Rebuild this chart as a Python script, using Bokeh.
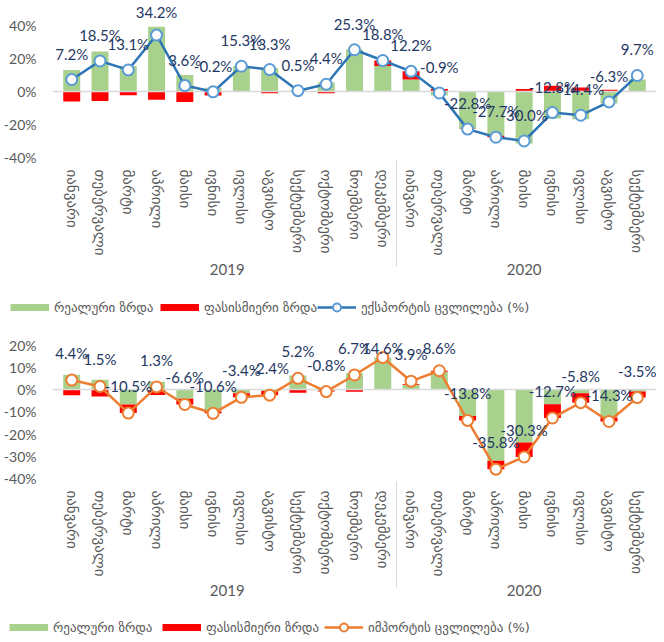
import math
from bokeh.plotting import figure
from bokeh.models import FactorRange, Range1d, FixedTicker, Legend, LegendItem, PrintfTickFormatter
from bokeh.layouts import column
from bokeh.embed import file_html
from bokeh.resources import INLINE
from bokeh.core.properties import value

years = ["2019"] * 12 + ["2020"] * 9
months_ka = ["იანვარი", "თებერვალი", "მარტი", "აპრილი", "მაისი", "ივნისი",
             "ივლისი", "აგვისტო", "სექტემბერი", "ოქტომბერი", "ნოემბერი", "დეკემბერი"]
months = months_ka + months_ka[:9]

exp_real = [13.0, 24.2, 15.4, 39.2, 10.0, 2.3, 15.5, 14.3, 0.8, 5.4, 25.5, 15.5,
            7.2, -2.4, -22.6, -26.8, -31.5, -16.3, -16.8, -7.3, 7.3]
exp_price = [-6.0, -5.8, -2.3, -5.0, -6.4, -2.5, -0.2, -1.0, -0.3, -1.0, -0.2, 3.3,
             5.0, 1.5, -0.2, -0.9, 1.5, 3.5, 2.4, 1.0, 0.0]
exp_change = [7.2, 18.5, 13.1, 34.2, 3.6, -0.2, 15.3, 13.3, 0.5, 4.4, 25.3, 18.8,
              12.2, -0.9, -22.8, -27.7, -30.0, -12.8, -14.4, -6.3, 9.7]

imp_real = [6.8, 4.5, -6.6, 3.6, -4.0, -9.8, -1.5, -0.5, 6.5, -0.3, 7.6, 14.6,
            2.3, 8.2, -11.8, -32.0, -23.8, -6.5, -1.6, -12.5, -0.8]
imp_price = [-2.4, -3.0, -3.9, -2.3, -2.6, -0.8, -1.9, -1.9, -1.3, -0.5, -0.9, 0.0,
             0.3, 0.4, -2.0, -3.8, -6.5, -6.2, -4.2, -1.8, -2.7]
imp_change = [4.4, 1.5, -10.5, 1.3, -6.6, -10.6, -3.4, -2.4, 5.2, -0.8, 6.7, 14.6,
              3.9, 8.6, -13.8, -35.8, -30.3, -12.7, -5.8, -14.3, -3.5]

legend_real = "რეალური ზრდა"
legend_price = "ფასისმიერი ზრდა"
legend_exp = "ექსპორტის ცვლილება (%)"
legend_imp = "იმპორტის ცვლილება (%)"

GREEN = "#A9D18E"
RED = "#FF0000"
GRAY = "#595959"
LABEL = "#1F3864"
FW = 604
BL = 44


def stack(real, price):
    gb, gt, rb, rt = [], [], [], []
    for g, r in zip(real, price):
        gb.append(0.0)
        gt.append(g)
        if (g >= 0) == (r >= 0):
            rb.append(g)
            rt.append(g + r)
        else:
            rb.append(0.0)
            rt.append(r)
    return gb, gt, rb, rt


def factors():
    return FactorRange(*list(zip(years, months)), group_padding=0, factor_padding=0,
                       range_padding=0.18, range_padding_units="absolute")


def panel(real, price, change, line_color, marker_color, yr, ticks,
          frame_h, bottom_border, lab_px, lab_cap):
    x = list(zip(years, months))
    p = figure(x_range=factors(), y_range=Range1d(*yr), frame_width=FW, frame_height=frame_h,
               output_backend="svg", toolbar_location=None, tools="",
               min_border_left=BL, min_border_right=0, min_border_top=0,
               min_border_bottom=bottom_border)
    p.outline_line_color = None
    p.xgrid.visible = False
    p.ygrid.visible = False

    gb, gt, rb, rt = stack(real, price)
    p.vbar(x=x, bottom=gb, top=gt, width=0.6, fill_color=GREEN, line_color=None)
    p.vbar(x=x, bottom=rb, top=rt, width=0.6, fill_color=RED, line_color=None)
    p.hspan(y=[0], line_color="#D9D9D9", line_width=1.5)
    p.line(x=x, y=change, line_color=line_color, line_width=2.5)
    p.scatter(x=x, y=change, size=11, marker="circle", fill_color="white",
              line_color=marker_color, line_width=2)
    scale = frame_h / (yr[1] - yr[0])
    lab_y = [min(v + lab_px / scale, lab_cap) for v in change]
    p.text(x=x, y=lab_y, text=[f"{v:.1f}%" for v in change], text_align="center",
           text_baseline="middle", text_color=LABEL,
           text_font=value("Lato"), text_font_size="15px")

    ya = p.yaxis[0]
    ya.ticker = FixedTicker(ticks=ticks)
    ya.formatter = PrintfTickFormatter(format="%d%%")
    ya.axis_line_color = None
    ya.major_tick_line_color = None
    ya.minor_tick_line_color = None
    ya.major_label_standoff = 10
    ya.major_label_text_font = "Lato"
    ya.major_label_text_font_size = "14px"
    ya.major_label_text_color = GRAY

    xa = p.xaxis[0]
    xa.axis_line_color = None
    xa.major_tick_line_color = None
    xa.minor_tick_line_color = None
    xa.major_label_orientation = -math.pi / 2
    xa.major_label_standoff = 6
    xa.major_label_text_font = "DejaVu Sans"
    xa.major_label_text_font_size = "15px"
    xa.major_label_text_color = GRAY
    xa.group_text_font = "Lato"
    xa.group_text_font_size = "15px"
    xa.group_text_font_style = "normal"
    xa.group_text_color = GRAY
    xa.separator_line_color = "#D9D9D9"
    xa.separator_line_width = 1
    return p


def legend_strip(real, price, change, line_color, marker_color, line_label, h, xs, y):
    x = list(zip(years, months))
    p = figure(x_range=factors(), y_range=Range1d(0, 1), width=648, height=h,
               output_backend="svg", toolbar_location=None, tools="",
               x_axis_location=None, y_axis_location=None, frame_align=False,
               min_border_left=0, min_border_right=0, min_border_top=0, min_border_bottom=0)
    p.outline_line_color = None
    p.xgrid.visible = False
    p.ygrid.visible = False
    # invisible copies of the series, only to give the legends their swatches
    g = p.line(x=x, y=real, line_color=GREEN, line_width=7)
    r = p.line(x=x, y=price, line_color=RED, line_width=7)
    ln = p.line(x=x, y=change, line_color=line_color, line_width=2.5)
    mk = p.scatter(x=x, y=change, marker="circle", fill_color="white",
                   line_color=marker_color, line_width=2)
    for rr in (g, r, ln, mk):
        rr.visible = False
    entries = [(legend_real, [g]), (legend_price, [r]), (line_label, [ln, mk])]
    for (lab, rends), lx in zip(entries, xs):
        legend = Legend(items=[LegendItem(label=lab, renderers=rends)],
                        orientation="horizontal", location=(lx, y),
                        label_text_font="DejaVu Sans", label_text_font_size="13px",
                        label_text_color=GRAY, glyph_width=39, glyph_height=20,
                        label_standoff=5, spacing=0, padding=0, margin=0,
                        inactive_fill_alpha=0,
                        border_line_color=None, background_fill_alpha=0)
        p.add_layout(legend, "center")
    return p


p1 = panel(exp_real, exp_price, exp_change, "#2E75B6", "#5B9BD5",
           (-40, 55.15), [-40, -20, 0, 20, 40], 157, 135, 26, 48.2)
l1 = legend_strip(exp_real, exp_price, exp_change, "#2E75B6", "#5B9BD5", legend_exp,
                  41, (10, 160, 317), 16)
p2 = panel(imp_real, imp_price, imp_change, "#ED7D31", "#ED7D31",
           (-40, 25.4), [-40, -30, -20, -10, 0, 10, 20], 145, 130, 27, 19.0)
l2 = legend_strip(imp_real, imp_price, imp_change, "#ED7D31", "#ED7D31", legend_imp,
                  32, (9, 162, 324), 3)

layout = column(p1, l1, p2, l2, spacing=0)
open("out.html", "w").write(file_html(layout, INLINE))
